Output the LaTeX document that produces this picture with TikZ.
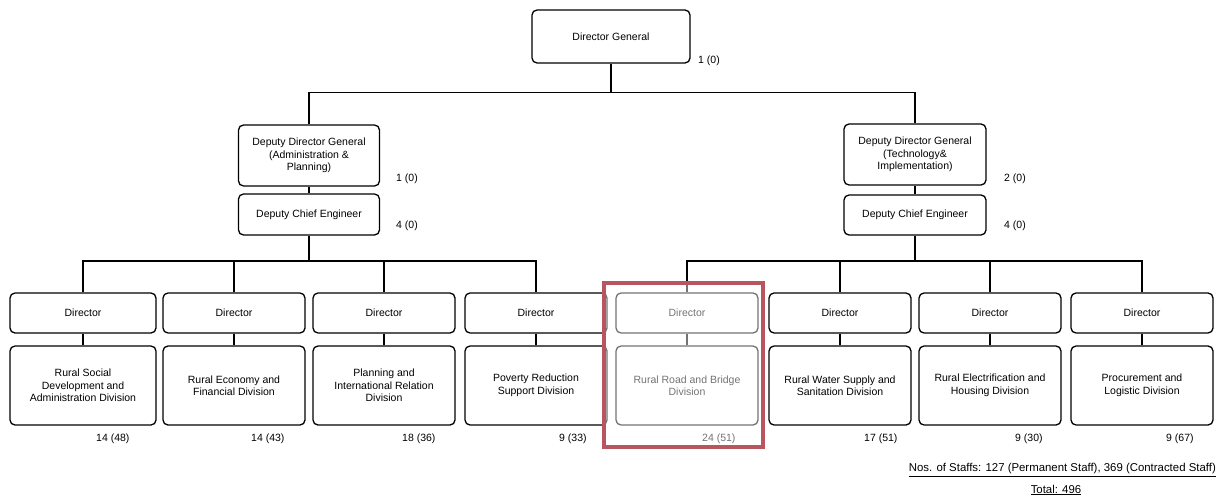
\documentclass[tikz,border=0pt]{standalone}
\usepackage{fontspec}
\setmainfont{Liberation Sans}
\definecolor{hl}{RGB}{185,85,95}
\newcommand\chartfont{\fontsize{10.5}{12.5}\selectfont}
\newcommand\footfont{\fontsize{11.4}{13}\selectfont}
\begin{document}
\begin{tikzpicture}[x=1pt,y=-1pt,
  box/.style={draw, line width=1.3pt, rounded corners=5pt, align=center, font=\chartfont, inner sep=2pt},
  dirbox/.style={box, minimum width=142pt, minimum height=40pt},
  divbox/.style={box, minimum width=142pt, minimum height=79pt},
  conn/.style={line width=1.3pt},
  cnt/.style={font=\chartfont, inner sep=0pt},
  foot/.style={font=\footfont, inner sep=0pt}]
\useasboundingbox (0,0) rectangle (1230,495);
% top
\node[box, minimum width=158pt, minimum height=53pt] (dg) at (611,36.5) {Director General};
\node[cnt, anchor=west] (dgn) at (698,61) {1 (0)};
\node[box, minimum width=141pt, minimum height=61pt] (ddgL) at (309,155.5) {Deputy Director General\\(Administration \&\\Planning)};
\node[box, minimum width=141pt, minimum height=41pt] (dceL) at (309,214.5) {Deputy Chief Engineer};
\node[box, minimum width=142pt, minimum height=61pt] (ddgR) at (915,154.5) {Deputy Director General\\(Technology\&\\Implementation)};
\node[box, minimum width=142pt, minimum height=40pt] (dceR) at (915,215) {Deputy Chief Engineer};
\node[cnt] (ddgLn) at (407,179) {1 (0)};
\node[cnt] (dceLn) at (407,226) {4 (0)};
\node[cnt] (ddgRn) at (1015,179) {2 (0)};
\node[cnt] (dceRn) at (1015,226) {4 (0)};
\draw[conn] (dg.south) -- ++(0,29) -| (ddgL.north);
\draw[conn] (dg.south) -- ++(0,29) -| (ddgR.north);
\draw[conn] (ddgL.south) -- (dceL.north);
\draw[conn] (ddgR.south) -- (dceR.north);
\coordinate (busL) at (309,261);
\coordinate (busR) at (915,261);
\draw[conn] (dceL.south) -- (busL);
\draw[conn] (dceR.south) -- (busR);
% directors and divisions
\node[dirbox, minimum width=146pt] (d1) at (83,313) {Director};
\node[dirbox] (d2) at (234,313) {Director};
\node[dirbox] (d3) at (384,313) {Director};
\node[dirbox] (d4) at (536,313) {Director};
\node[dirbox] (d5) at (687,313) {Director};
\node[dirbox] (d6) at (840,313) {Director};
\node[dirbox] (d7) at (990,313) {Director};
\node[dirbox] (d8) at (1142,313) {Director};
\node[divbox, minimum width=146pt] (v1) at (83,385.5) {Rural Social\\Development and\\Administration Division};
\node[divbox] (v2) at (234,385.5) {Rural Economy and\\Financial Division};
\node[divbox] (v3) at (384,385.5) {Planning and\\International Relation\\Division};
\node[divbox] (v4) at (536,385.5) {Poverty Reduction\\Support Division};
\node[divbox] (v5) at (687,385.5) {Rural Road and Bridge\\Division};
\node[divbox] (v6) at (840,385.5) {Rural Water Supply and\\Sanitation Division};
\node[divbox] (v7) at (990,385.5) {Rural Electrification and\\Housing Division};
\node[divbox] (v8) at (1142,385.5) {Procurement and\\Logistic Division};
\foreach \i in {1,2,3,4} {\draw[conn] (d\i.north) |- (busL);}
\foreach \i in {5,6,7,8} {\draw[conn] (d\i.north) |- (busR);}
\foreach \i in {1,...,8} {\draw[conn] (d\i.south) -- (v\i.north);}
\node[cnt, anchor=west] (n1) at (96,439) {14 (48)};
\node[cnt, anchor=west] (n2) at (251,439) {14 (43)};
\node[cnt, anchor=west] (n3) at (402,439) {18 (36)};
\node[cnt, anchor=west] (n4) at (559,439) {9 (33)};
\node[cnt, anchor=west] (n5) at (702,439) {24 (51)};
\node[cnt, anchor=west] (n6) at (864,439) {17 (51)};
\node[cnt, anchor=west] (n7) at (1015,439) {9 (30)};
\node[cnt, anchor=west] (n8) at (1166,439) {9 (67)};
% highlight
\fill[white, fill opacity=0.45] (604,283) rectangle (763,447);
\draw[hl, line width=3.5pt] (604,283) rectangle (763,447);
% footer
\node[foot, anchor=east] (staff) at (1216,470) {\underline{Nos. of Staffs: 127 (Permanent Staff), 369 (Contracted Staff)}};
\node[foot] (total) at (1056,490) {\underline{Total: 496}};
\end{tikzpicture}
\end{document}
